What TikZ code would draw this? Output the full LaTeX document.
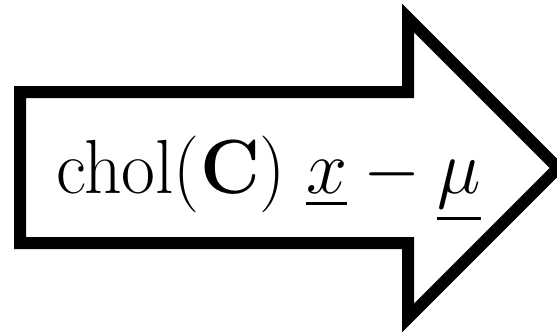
\documentclass[tikz,border=0pt]{standalone}
\usepackage{amsmath,amssymb}
\usepackage{graphicx}
\usepackage{tikz}

\begin{document}
\begin{tikzpicture}[x=1pt,y=-1pt,
  outline/.style={draw=black,line width=12pt,line join=miter,fill=white},
  lbl/.style={inner sep=0pt,anchor=base west,font=\huge}]
\useasboundingbox (0,0) rectangle (557,335);
% big arrow
\draw[outline] (20,92) -- (408,92) -- (408,18) -- (558,168)
  -- (408,318) -- (408,243) -- (20,243) -- cycle;
\node[lbl] (expr) at (56,193)
  {\scalebox{3.55}[3.7]{$\mathrm{chol}(\mathbf{C})\;\underline{x}-\underline{\mu}$}};
\end{tikzpicture}
\end{document}
